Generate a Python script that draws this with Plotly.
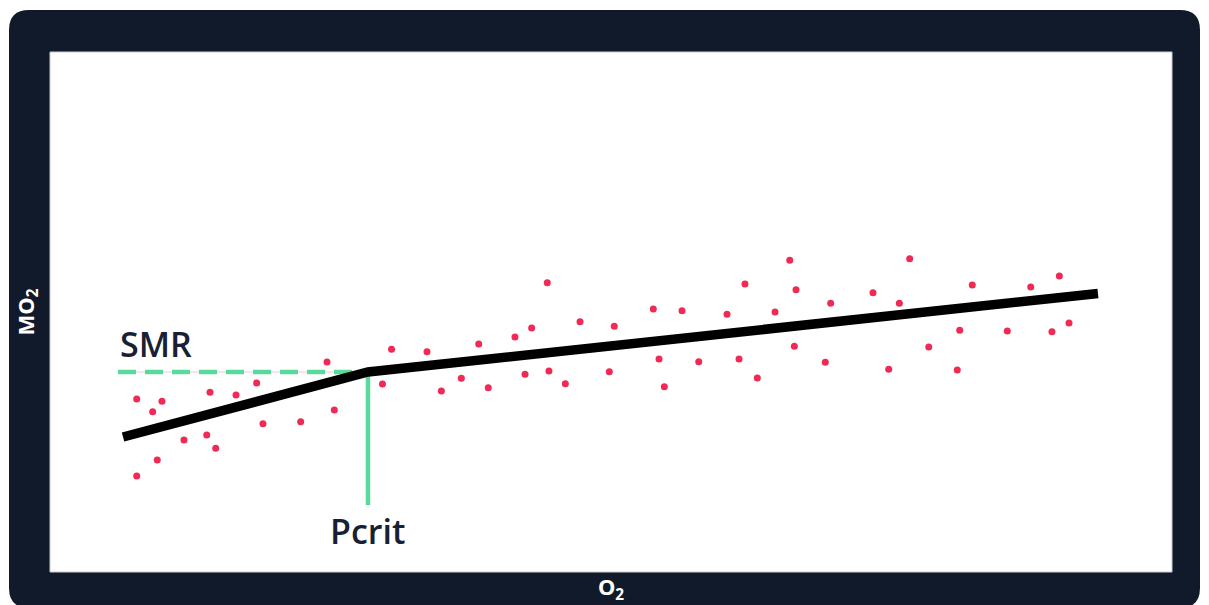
import plotly.graph_objects as go

# ---- data ----
o2_points = [7.73, 7.73, 9.15, 9.56, 9.98, 11.94, 13.97, 14.26, 14.77, 16.58,
             18.42, 18.98, 22.34, 24.69, 25.34, 29.63, 30.44, 33.60, 34.88, 36.66,
             38.21, 39.06, 41.44, 42.34, 42.93, 44.32, 44.47, 45.93, 47.24, 49.85,
             50.29, 53.77, 54.28, 54.75, 56.33, 57.82, 60.34, 61.41, 61.94, 63.04,
             64.62, 65.93, 66.34, 66.49, 69.10, 69.58, 73.35, 74.75, 75.70, 76.62,
             78.32, 80.86, 81.08, 82.20, 85.32, 87.41, 89.30, 89.96, 90.82]
mo2_points = [33.27, 18.46, 30.83, 21.54, 32.83, 25.38, 26.35, 34.56, 23.79, 34.04,
              36.35, 28.52, 28.90, 40.38, 31.15, 36.15, 42.83, 42.37, 34.81, 37.25,
              43.85, 35.44, 45.19, 38.02, 46.92, 55.63, 38.65, 36.21, 48.13, 38.52,
              47.25, 50.58, 40.96, 35.63, 50.25, 40.44, 49.56, 40.96, 55.38, 37.31,
              50.00, 59.94, 43.40, 54.29, 40.33, 51.67, 53.71, 38.98, 51.67, 60.25,
              43.27, 38.85, 46.48, 55.19, 46.35, 54.81, 46.21, 56.92, 47.88]

fit_o2 = [6.51, 28.34, 93.40]
fit_mo2 = [25.96, 38.46, 53.56]

smr_value = 38.46
pcrit_value = 28.34
smr_start_o2 = 6.06
pcrit_bottom_mo2 = 12.88

x_range = [0, 100]
y_range = [0, 100]

# ---- styling / geometry ----
W, H = 1193, 597
L, R, T, B = 42, 29, 44, 33
PW, PH = W - L - R, H - T - B
DARK = "#111a2b"
TEXT = "#182033"
RED = "#ee2a55"
GREEN = "#57da9c"


def pxx(x):
    return (x - L) / PW


def pxy(y):
    return (T + PH - y) / PH


def rounded_rect(x0, y0, x1, y1, r):
    pts = []
    pts.append(f"M {pxx(x0 + r)} {pxy(y0)}")
    pts.append(f"L {pxx(x1 - r)} {pxy(y0)}")
    pts.append(f"Q {pxx(x1)} {pxy(y0)} {pxx(x1)} {pxy(y0 + r)}")
    pts.append(f"L {pxx(x1)} {pxy(y1 - r)}")
    pts.append(f"Q {pxx(x1)} {pxy(y1)} {pxx(x1 - r)} {pxy(y1)}")
    pts.append(f"L {pxx(x0 + r)} {pxy(y1)}")
    pts.append(f"Q {pxx(x0)} {pxy(y1)} {pxx(x0)} {pxy(y1 - r)}")
    pts.append(f"L {pxx(x0)} {pxy(y0 + r)}")
    pts.append(f"Q {pxx(x0)} {pxy(y0)} {pxx(x0 + r)} {pxy(y0)}")
    pts.append("Z")
    return " ".join(pts)


fig = go.Figure()

# thin pale line under SMR dashes
fig.add_trace(go.Scatter(x=[smr_start_o2, pcrit_value], y=[smr_value, smr_value],
                         mode="lines", line=dict(color="#f4c4cd", width=1),
                         hoverinfo="skip", showlegend=False))
# SMR dashed line
fig.add_trace(go.Scatter(x=[smr_start_o2, pcrit_value], y=[smr_value, smr_value],
                         mode="lines", line=dict(color=GREEN, width=4.5, dash="18px,9px"),
                         hoverinfo="skip", showlegend=False))
# Pcrit vertical line
fig.add_trace(go.Scatter(x=[pcrit_value, pcrit_value], y=[smr_value, pcrit_bottom_mo2],
                         mode="lines", line=dict(color=GREEN, width=4.5),
                         hoverinfo="skip", showlegend=False))
# fitted broken-stick line
fig.add_trace(go.Scatter(x=fit_o2, y=fit_mo2, mode="lines",
                         line=dict(color="#000000", width=9.5),
                         hoverinfo="skip", showlegend=False))
# measurements
fig.add_trace(go.Scatter(x=o2_points, y=mo2_points, mode="markers",
                         marker=dict(color=RED, size=7, line=dict(width=0)),
                         showlegend=False))

fig.add_annotation(x=smr_start_o2, y=43.85, xref="x", yref="y", text="SMR",
                   showarrow=False, xanchor="left", yanchor="middle",
                   font=dict(family="Open Sans", size=34, color=TEXT, weight=600))
fig.add_annotation(x=pcrit_value, y=7.98, xref="x", yref="y", text="Pcrit",
                   showarrow=False, xanchor="center", yanchor="middle",
                   font=dict(family="Open Sans", size=34, color=TEXT, weight=600))

fig.update_layout(
    width=W, height=H,
    margin=dict(l=L, r=R, t=T, b=B, autoexpand=False),
    paper_bgcolor="white",
    plot_bgcolor="white",
    showlegend=False,
    shapes=[
        dict(type="path", xref="paper", yref="paper", layer="below",
             path=rounded_rect(1, 2, 1192, 600, 20),
             fillcolor=DARK, line=dict(width=0)),
        dict(type="rect", xref="paper", yref="paper", layer="below",
             x0=0, x1=1, y0=0, y1=1, fillcolor="white",
             line=dict(color="#c9ccd1", width=1)),
    ],
    xaxis=dict(range=x_range, showgrid=False, zeroline=False, showticklabels=False,
               ticks="", showline=False, fixedrange=True, automargin=False,
               title=dict(text="O<sub>2</sub>", standoff=9,
                          font=dict(family="Noto Sans", size=22, color="white", weight=700))),
    yaxis=dict(range=y_range, showgrid=False, zeroline=False, showticklabels=False,
               ticks="", showline=False, fixedrange=True, automargin=False,
               title=dict(text="MO<sub>2</sub>", standoff=8,
                          font=dict(family="Noto Sans", size=22, color="white", weight=700))),
)

fig.write_html("out.html")
